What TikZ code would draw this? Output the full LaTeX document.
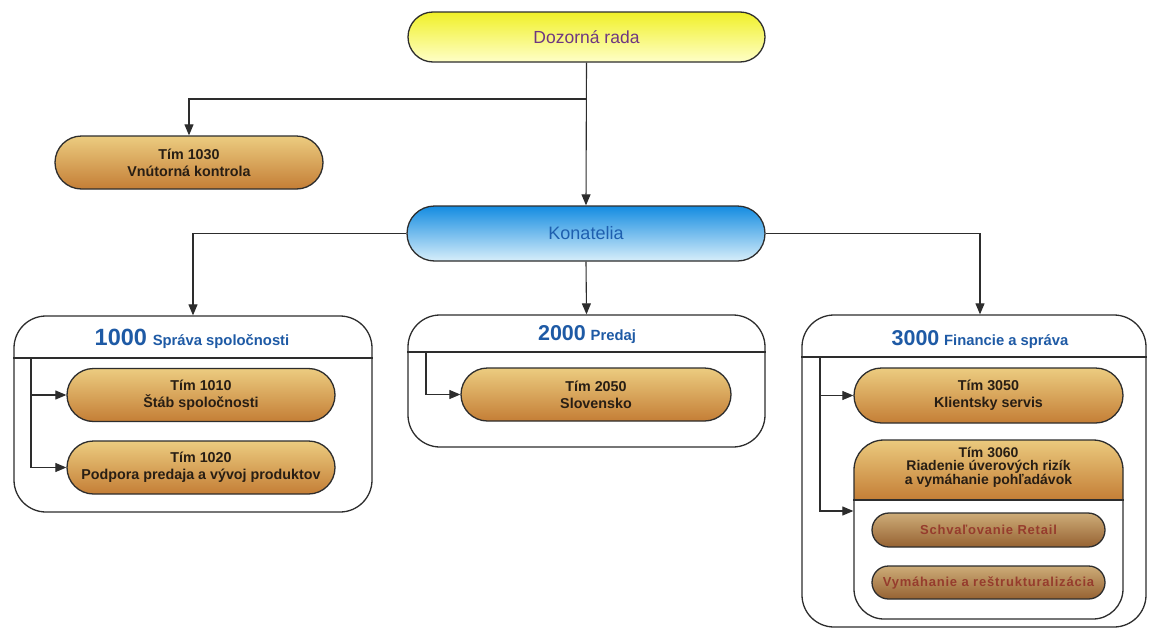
\documentclass[tikz,border=0pt]{standalone}
\usepackage{fontspec}
\setmainfont{Liberation Sans}
\newfontfamily\spacedfont[LetterSpace=6]{Liberation Sans}
\usetikzlibrary{shapes.misc,arrows.meta}
\definecolor{linec}{RGB}{45,45,45}
\definecolor{timtop}{RGB}{236,204,128}
\definecolor{timbot}{RGB}{196,126,54}
\definecolor{timtext}{RGB}{40,30,20}
\definecolor{inntop}{RGB}{205,172,120}
\definecolor{innbot}{RGB}{150,98,50}
\definecolor{inntext}{RGB}{150,60,45}
\definecolor{drtop}{RGB}{240,240,40}
\definecolor{drbot}{RGB}{255,255,200}
\definecolor{drtext}{RGB}{110,55,130}
\definecolor{kontop}{RGB}{20,140,225}
\definecolor{konbot}{RGB}{215,238,250}
\definecolor{kontext}{RGB}{30,95,175}
\definecolor{headtext}{RGB}{30,90,165}
\tikzset{
  pill/.style={shape=rounded rectangle, draw=linec, line width=1.3pt, inner sep=0pt},
  timpill/.style={pill, top color=timtop, bottom color=timbot, text=timtext,
     font=\fontsize{14.3}{17}\selectfont\bfseries, align=center, minimum width=268pt, minimum height=53pt},
  innpill/.style={pill, top color=inntop, bottom color=innbot, text=inntext,
     font=\fontsize{13}{15}\selectfont\bfseries\spacedfont, minimum width=233pt, minimum height=34pt},
  unitbox/.style={draw=linec, line width=1.3pt, rounded corners=32pt, inner sep=0pt},
  divider/.style={draw=linec, line width=1.3pt},
  conn/.style={draw=linec, line width=1.1pt},
  arr/.style={conn, -{Triangle[length=11pt,width=9pt]}},
  headlbl/.style={text=headtext, font=\bfseries},
}
\newcommand{\smallhead}[1]{{\fontsize{14.8}{16}\selectfont #1}}
\begin{document}
\begin{tikzpicture}[x=1pt,y=-1pt]
\useasboundingbox (0,0) rectangle (1149,632);
\fill[white] (0,0) rectangle (1149,632);

% top level
\node[pill, top color=drtop, bottom color=drbot, text=drtext, font=\fontsize{17.5}{20}\selectfont,
      minimum width=357pt, minimum height=50pt] (dr) at (586.5,37) {Dozorná rada};
\node[timpill] (t1030) at (189,162.5) {Tím 1030\\Vnútorná kontrola};
\node[pill, top color=kontop, bottom color=konbot, text=kontext, font=\fontsize{18}{20}\selectfont,
      minimum width=358pt, minimum height=55pt] (kon) at (586,233.5) {Konatelia};

% unit boxes
\node[unitbox, minimum width=358pt, minimum height=196pt] (b1) at (193,414) {};
\node[unitbox, minimum width=357pt, minimum height=132pt] (b2) at (586.5,381) {};
\node[unitbox, minimum width=344pt, minimum height=312pt] (b3) at (974,471) {};
\draw[divider] (b1.west |- 0,358) -- (b1.east |- 0,358);
\draw[divider] (b2.west |- 0,352) -- (b2.east |- 0,352);
\draw[divider] (b3.west |- 0,357) -- (b3.east |- 0,357);
\node[headlbl, anchor=base] (h1) at (192,345) {{\fontsize{23.5}{23}\selectfont 1000}\hspace{3pt} \smallhead{Správa spoločnosti}};
\node[headlbl, anchor=base] (h2) at (587,340) {{\fontsize{21.5}{21}\selectfont 2000}\hspace{2pt} \smallhead{Predaj}};
\node[headlbl, anchor=base] (h3) at (980,345) {{\fontsize{21.5}{21}\selectfont 3000}\hspace{2pt} \smallhead{Financie a správa}};

% teams
\node[timpill] (t1010) at (201,395) {Tím 1010\\Štáb spoločnosti};
\node[timpill] (t1020) at (201,467.5) {Tím 1020\\Podpora predaja a vývoj produktov};
\node[timpill, minimum width=270pt] (t2050) at (596,394.5) {Tím 2050\\Slovensko};
\node[timpill, minimum width=269pt, minimum height=55pt] (t3050) at (988.5,395.5) {Tím 3050\\Klientsky servis};

% Tim 3060 group
\begin{scope}
  \clip[rounded corners=30pt] (854,440) rectangle (1123,619);
  \shade[top color=timtop, bottom color=timbot] (854,438) rectangle (1123,500);
\end{scope}
\node[unitbox, rounded corners=30pt, minimum width=269pt, minimum height=179pt] (g3060) at (988.5,529.5) {};
\draw[divider] (g3060.west |- 0,500) -- (g3060.east |- 0,500);
\node[text=timtext, font=\fontsize{14}{13}\selectfont\bfseries, align=center] (h3060) at (988.5,467)
   {Tím 3060\\Riadenie úverových rizík\\a vymáhanie pohľadávok};
\node[innpill] (schv) at (988.5,530) {Schvaľovanie Retail};
\node[innpill, minimum height=33pt] (vym) at (988.5,582.5) {Vymáhanie a reštrukturalizácia};

% connectors, top level
\coordinate (j1) at (586,99);
\draw[arr] (dr.south) -- (kon.north);
\draw[arr] (j1) -| (t1030.north);
\draw[arr] (kon.west) -| (b1.north);
\draw[arr] (kon.south) -- (b2.north);
\draw[arr] (kon.east) -| ([xshift=6pt]b3.north);

% connectors inside boxes
\coordinate (v1) at (31,358);
\draw[arr] (v1) |- (t1020.west);
\draw[arr] (v1 |- t1010.west) -- (t1010.west);
\coordinate (v2) at (426,352);
\draw[arr] (v2) |- (t2050.west);
\coordinate (v3) at (820,357);
\coordinate (v3b) at (820,511);
\draw[arr] (v3) -- (v3b) -- (v3b -| g3060.west);
\draw[arr] (v3 |- t3050.west) -- (t3050.west);
\end{tikzpicture}
\end{document}
